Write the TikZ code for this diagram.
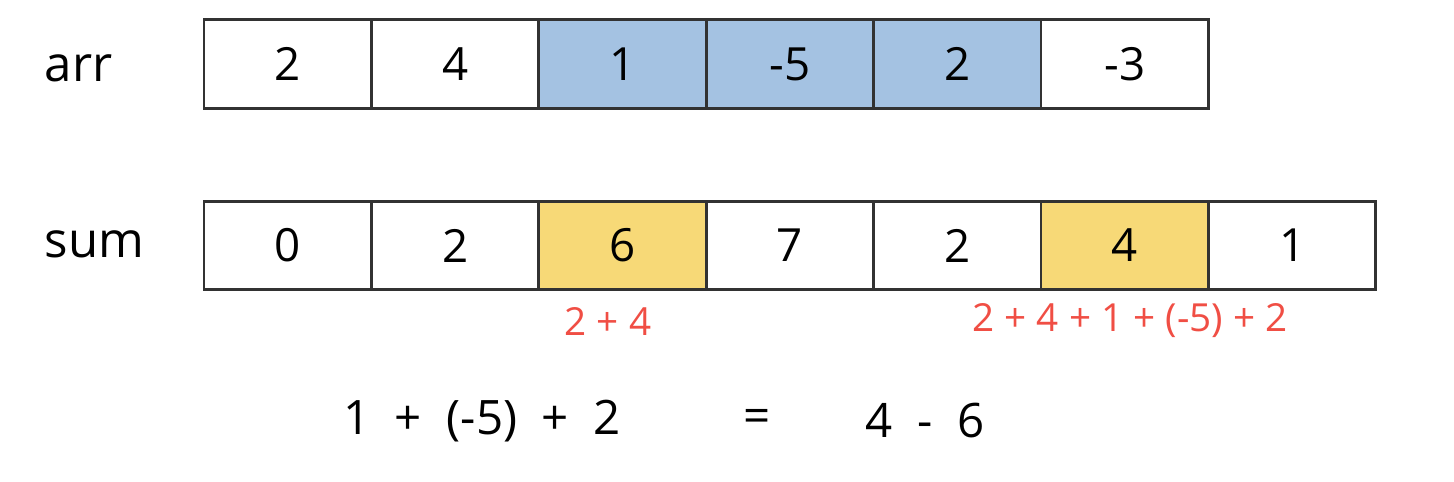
\documentclass[tikz,border=0pt]{standalone}
\usepackage{fontspec}
\setmainfont{Open Sans}
\usetikzlibrary{positioning}
\definecolor{arrblue}{RGB}{164,194,226}
\definecolor{sumyellow}{RGB}{247,217,119}
\definecolor{linegray}{RGB}{50,50,50}
\definecolor{noteRed}{RGB}{240,78,68}
\tikzset{
  cell/.style={draw=linegray,line width=0.8pt,minimum width=1.674cm,minimum height=0.885cm,inner sep=0pt,font=\fontsize{13}{15}\selectfont},
  rowlabel/.style={anchor=west,inner sep=0pt,font=\fontsize{14}{16}\selectfont},
  note/.style={text=noteRed,inner sep=0pt,font=\fontsize{11}{13}\selectfont},
  formula/.style={inner sep=0pt,font=\fontsize{13.5}{15}\selectfont}
}

\begin{document}
\begin{tikzpicture}[x=0.01cm,y=-0.01cm]
  \useasboundingbox (0,0) rectangle (1454,482);
  \node[rowlabel] (arrlabel) at (44,68) {arr};
  \node[rowlabel] (sumlabel) at (44,244) {sum};
  \foreach \v/\c [count=\i from 0] in {2/white,4/white,1/arrblue,-5/arrblue,2/arrblue,-3/white}
    {\node[cell,fill=\c] (a\i) at ({287.7+167.4*\i},64) {\v};}
  \foreach \v/\c [count=\i from 0] in {0/white,2/white,6/sumyellow,7/white,2/white,4/sumyellow,1/white}
    {\node[cell,fill=\c] (s\i) at ({287.7+167.4*\i},245.5) {\v};}
  \node[note] (n2) at (608,321) {2 + 4};
  \node[note] (n5) at (1130,321) {2 + 4 + 1 + (-5) + 2};
  \node[formula] (lhs) at (482,421) {1 \ + \ (-5) \ + \ 2};
  \node[formula] (eq) at (757,421) {=};
  \node[formula] (rhs) at (925,421) {4 \ - \ 6};
\end{tikzpicture}
\end{document}
